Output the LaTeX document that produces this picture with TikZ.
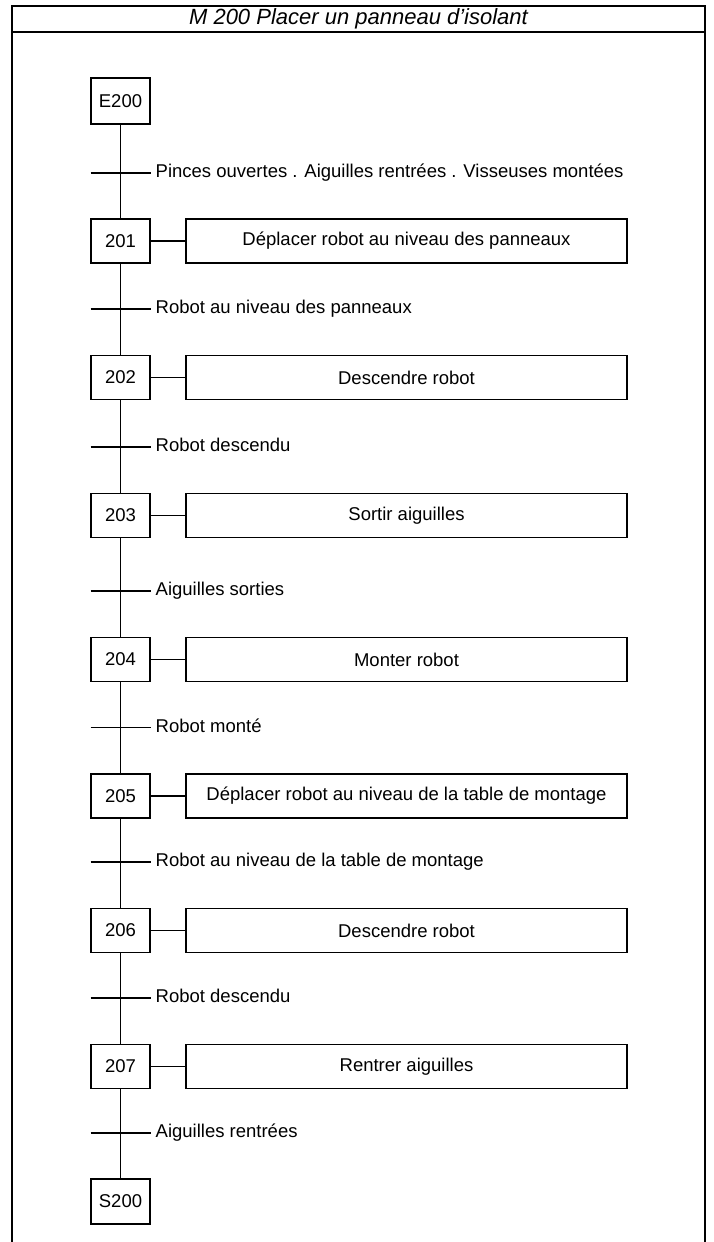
\documentclass[tikz,border=0pt]{standalone}
\usepackage{fontspec}
\setmainfont{Liberation Sans}
\usetikzlibrary{calc}
\tikzset{
    etape/.style={draw, line width=1.2pt, minimum width=59pt, minimum height=44pt, inner sep=0pt},
    action/.style={draw, line width=1.2pt, minimum width=441pt, minimum height=44pt, inner sep=0pt},
    recept/.style={anchor=base west, inner sep=0pt},
    liaison/.style={line width=1.2pt}
}

\begin{document}
\begin{tikzpicture}[x=1pt, y=-1pt, font=\fontsize{18.5}{20}\selectfont]
\useasboundingbox (0,0) rectangle (713,1242);

% Rahmen mit Titelzeile
\coordinate (R1) at (12,1244);
\coordinate (R2) at (12,6);
\coordinate (R3) at (705,6);
\coordinate (R4) at (705,1244);
\coordinate (T1) at (12,31.5);
\coordinate (T2) at (705,31.5);
\draw[line width=2pt] (R1) -- (R2) -- (R3) -- (R4);
\draw[line width=2pt] (T1) -- (T2);
\node[font=\fontsize{22}{24}\selectfont\itshape] (titre) at ($(T1)!0.5!(T2)+(0,-12.5)$) {M 200 Placer un panneau d'isolant};

% Etapes (Schritte)
\node[etape, minimum height=46pt] (E200) at (120.5,101) {E200};
\node[etape] (e201) at (120.5,241) {201};
\node[etape] (e202) at (120.5,377.5) {202};
\node[etape] (e203) at (120.5,515.5) {203};
\node[etape] (e204) at (120.5,659.5) {204};
\node[etape] (e205) at (120.5,796) {205};
\node[etape] (e206) at (120.5,930.5) {206};
\node[etape] (e207) at (120.5,1066.5) {207};
\node[etape, minimum height=45pt] (S200) at (120.5,1201.5) {S200};

% Aktionen
\node[action] (a201) at (406.5,241) {Déplacer robot au niveau des panneaux};
\node[action] (a202) at (406.5,377.5) {Descendre robot};
\node[action] (a203) at (406.5,515.5) {Sortir aiguilles};
\node[action] (a204) at (406.5,659.5) {Monter robot};
\node[action] (a205) at (406.5,796) {Déplacer robot au niveau de la table de montage};
\node[action] (a206) at (406.5,930.5) {Descendre robot};
\node[action] (a207) at (406.5,1066.5) {Rentrer aiguilles};

% Verbindungen Schritt -- Aktion
\draw[liaison] (e201) -- (a201);
\draw[liaison] (e202) -- (a202);
\draw[liaison] (e203) -- (a203);
\draw[liaison] (e204) -- (a204);
\draw[liaison] (e205) -- (a205);
\draw[liaison] (e206) -- (a206);
\draw[liaison] (e207) -- (a207);

% Senkrechte Linie
\draw[liaison] (E200) -- (e201) -- (e202) -- (e203) -- (e204) -- (e205) -- (e206) -- (e207) -- (S200);

% Transitionen
\coordinate (t1) at (120.5,173);
\coordinate (t2) at (120.5,309);
\coordinate (t3) at (120.5,447);
\coordinate (t4) at (120.5,591);
\coordinate (t5) at (120.5,727.5);
\coordinate (t6) at (120.5,862);
\coordinate (t7) at (120.5,998);
\coordinate (t8) at (120.5,1133);
\draw[liaison] ($(t1)+(-30,0)$) -- ($(t1)+(30,0)$);
\draw[liaison] ($(t2)+(-30,0)$) -- ($(t2)+(30,0)$);
\draw[liaison] ($(t3)+(-30,0)$) -- ($(t3)+(30,0)$);
\draw[liaison] ($(t4)+(-30,0)$) -- ($(t4)+(30,0)$);
\draw[liaison] ($(t5)+(-30,0)$) -- ($(t5)+(30,0)$);
\draw[liaison] ($(t6)+(-30,0)$) -- ($(t6)+(30,0)$);
\draw[liaison] ($(t7)+(-30,0)$) -- ($(t7)+(30,0)$);
\draw[liaison] ($(t8)+(-30,0)$) -- ($(t8)+(30,0)$);

% Receptivites
\node[recept] (r1) at ($(t1)+(35,4.5)$) {Pinces ouvertes . Aiguilles rentrées . Visseuses montées};
\node[recept] (r2) at ($(t2)+(35,4.5)$) {Robot au niveau des panneaux};
\node[recept] (r3) at ($(t3)+(35,4.5)$) {Robot descendu};
\node[recept] (r4) at ($(t4)+(35,4.5)$) {Aiguilles sorties};
\node[recept] (r5) at ($(t5)+(35,4.5)$) {Robot monté};
\node[recept] (r6) at ($(t6)+(35,4.5)$) {Robot au niveau de la table de montage};
\node[recept] (r7) at ($(t7)+(35,4.5)$) {Robot descendu};
\node[recept] (r8) at ($(t8)+(35,4.5)$) {Aiguilles rentrées};

\end{tikzpicture}
\end{document}
